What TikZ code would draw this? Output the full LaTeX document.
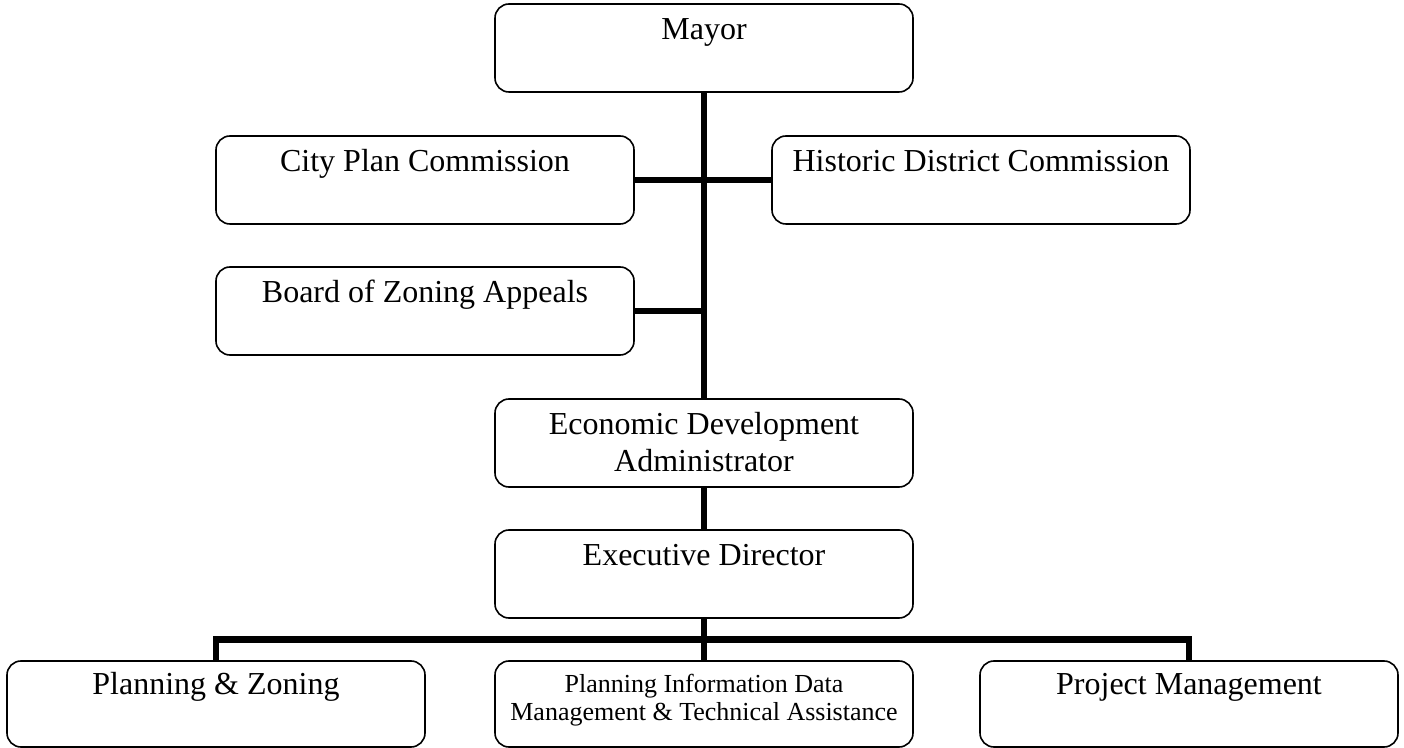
\documentclass[tikz,border=0pt]{standalone}
\usepackage{fontspec}
\setmainfont{Liberation Serif}
\usetikzlibrary{calc}

\begin{document}
\begin{tikzpicture}[x=.5pt,y=-.5pt,
  box/.style={draw,line width=.8pt,rounded corners=7pt,inner sep=0pt,
    minimum width=209pt,minimum height=44pt,text height=18pt,text depth=26pt,
    align=center,font=\fontsize{16}{18.5}\selectfont},
  lowbox/.style={box,minimum height=43pt,text height=17pt,text depth=26pt},
  link/.style={line width=3.3pt}]
\useasboundingbox (0,0) rectangle (1404,748);
% top of the chart
\node[box] (mayor) at (704,48) {Mayor};
\node[box] (cpc) at (425,180) {City Plan Commission};
\node[box] (hdc) at (981,180) {Historic District Commission};
\node[box] (bza) at (425,311) {Board of Zoning Appeals};
\node[box,text height=36.5pt,text depth=7.5pt] (eda) at (704,443)
  {Economic Development\\Administrator};
\node[box] (exec) at (704,574) {Executive Director};
% bottom row
\node[lowbox] (pz) at (216,704) {Planning \& Zoning};
\node[lowbox,text height=29.5pt,text depth=13.5pt,font=\fontsize{13}{14}\selectfont]
  (pim) at (704,704) {Planning Information Data\\Management \& Technical Assistance};
\node[lowbox] (pm) at (1189,704) {Project Management};
% connectors
\draw[link] (mayor.south) -- (eda.north);
\draw[link] (cpc.east) -- (hdc.west);
\draw[link] (bza.east) -- (bza.east -| mayor.south);
\draw[link] (eda.south) -- (exec.north);
\draw[link] (exec.south) -- (pim.north);
\coordinate (bus) at ($(exec.south)!.5!(pim.north)$);
\draw[link] (pz.north) |- (bus) -| (pm.north);
\end{tikzpicture}
\end{document}
